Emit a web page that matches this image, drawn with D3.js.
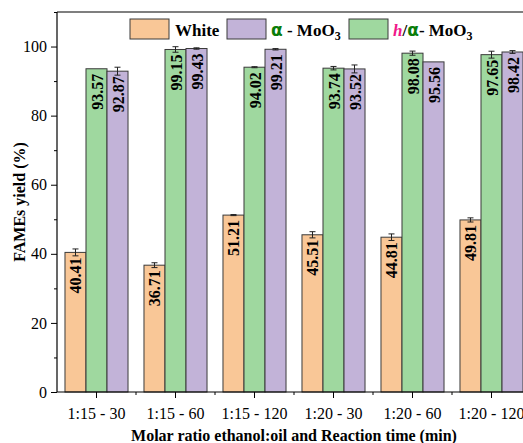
<!DOCTYPE html>
<html><head><meta charset="utf-8">
<script src="https://cdn.jsdelivr.net/npm/d3@7"></script>
<style>body{margin:0;background:#fff}svg{display:block}</style>
</head><body>
<script>
const categories = ["1:15 - 30","1:15 - 60","1:15 - 120","1:20 - 30","1:20 - 60","1:20 - 120"];
const seriesNames = ["White","h/α- MoO3","α - MoO3"];
const whiteVals = [40.41,36.71,51.21,45.51,44.81,49.81];
const hAlphaVals = [93.57,99.15,94.02,93.74,98.08,97.65];
const alphaVals = [92.87,99.43,99.21,93.52,95.56,98.42];
const whiteErr = [1.0,0.7,0.15,0.9,0.95,0.6];
const hAlphaErr = [0,0.8,0.15,0.5,0.6,1.0];
const alphaErr = [1.15,0.2,0.2,1.15,0,0.4];
const yTicks = [0,20,40,60,80,100];

const colors = {"White":"#F9C797","h/α- MoO3":"#9FD89F","α - MoO3":"#C2B3D8"};
const W=523,H=443;
const m={left:57,top:12,right:531,bottom:392};
const svg=d3.select("body").append("svg").attr("width",W).attr("height",H);
const font="'Liberation Serif','Times New Roman',serif";

const x=d3.scaleBand().domain(categories).range([m.left,m.right]).paddingInner(0).paddingOuter(0);
const xs=d3.scaleBand().domain(seriesNames).range([0,x.bandwidth()]).paddingInner(0).paddingOuter(0.38);
const y=d3.scaleLinear().domain([0,110]).range([m.bottom,m.top]);

const series=[
 {name:"White",vals:whiteVals,err:whiteErr},
 {name:"h/α- MoO3",vals:hAlphaVals,err:hAlphaErr},
 {name:"α - MoO3",vals:alphaVals,err:alphaErr}
];
const data=[];
series.forEach(s=>categories.forEach((c,i)=>data.push({cat:c,name:s.name,v:s.vals[i],e:s.err[i]})));

// frame top
svg.append("line").attr("x1",m.left).attr("x2",m.right).attr("y1",m.top).attr("y2",m.top).attr("stroke","#000").attr("stroke-width",1.2);

const g=svg.append("g");
g.selectAll("rect").data(data).enter().append("rect")
 .attr("x",d=>x(d.cat)+xs(d.name)).attr("width",xs.bandwidth())
 .attr("y",d=>y(d.v)).attr("height",d=>y(0)-y(d.v))
 .attr("fill",d=>colors[d.name]).attr("stroke","#3a3a3a").attr("stroke-width",1);

// error bars
const eb=g.selectAll(".eb").data(data.filter(d=>d.e>0)).enter().append("g").attr("stroke","#222").attr("stroke-width",1);
eb.append("line").attr("x1",d=>x(d.cat)+xs(d.name)+xs.bandwidth()/2).attr("x2",d=>x(d.cat)+xs(d.name)+xs.bandwidth()/2)
 .attr("y1",d=>y(d.v-d.e)).attr("y2",d=>y(d.v+d.e));
[1,-1].forEach(sg=>{
 eb.append("line").attr("x1",d=>x(d.cat)+xs(d.name)+xs.bandwidth()/2-3).attr("x2",d=>x(d.cat)+xs(d.name)+xs.bandwidth()/2+3)
 .attr("y1",d=>y(d.v+sg*d.e)).attr("y2",d=>y(d.v+sg*d.e));
});

// value labels
g.selectAll(".lab").data(data).enter().append("text")
 .attr("transform",d=>`translate(${x(d.cat)+xs(d.name)+xs.bandwidth()/2+6},${y(d.v)+5}) rotate(-90)`)
 .attr("text-anchor","end").attr("font-family",font).attr("font-weight","bold").attr("font-size",16)
 .text(d=>d.v.toFixed(2));

// axes
const yAxis=svg.append("g").attr("transform",`translate(${m.left},0)`)
 .call(d3.axisLeft(y).tickValues(yTicks).tickSize(6).tickPadding(4));
yAxis.append("g").call(d3.axisLeft(y).tickValues([10,30,50,70,90,110]).tickSize(3).tickFormat(""));
yAxis.selectAll(".domain").remove();
svg.append("line").attr("x1",m.left).attr("x2",m.left).attr("y1",m.top).attr("y2",m.bottom).attr("stroke","#000").attr("stroke-width",1.2);
yAxis.selectAll("text").attr("font-family",font).attr("font-size",16).attr("fill","#000");

const xAxis=svg.append("g").attr("transform",`translate(0,${m.bottom})`)
 .call(d3.axisBottom(x).tickSize(6).tickPadding(10));
xAxis.selectAll(".domain").remove();
xAxis.selectAll("text").attr("font-family",font).attr("font-size",16).attr("fill","#000");
const bounds=categories.map(c=>x(c)).concat([x(categories[5])+x.bandwidth()]).slice(1);
svg.append("g").selectAll("line").data(bounds).enter().append("line")
 .attr("x1",d=>d).attr("x2",d=>d).attr("y1",m.bottom).attr("y2",m.bottom+3).attr("stroke","#000");
svg.append("line").attr("x1",m.left).attr("x2",m.right).attr("y1",m.bottom).attr("y2",m.bottom).attr("stroke","#000").attr("stroke-width",1.2);

// axis titles
svg.append("text").attr("x",(m.left+m.right)/2).attr("y",441).attr("text-anchor","middle")
 .attr("font-family",font).attr("font-weight","bold").attr("font-size",16).text("Molar ratio ethanol:oil and Reaction time (min)");
svg.append("text").attr("transform",`translate(25,${(m.top+m.bottom)/2}) rotate(-90)`).attr("text-anchor","middle")
 .attr("font-family",font).attr("font-weight","bold").attr("font-size",16).text("FAMEs yield (%)");

// legend
const lg=svg.append("g").attr("font-family",font).attr("font-weight","bold").attr("font-size",17);
const legendItems=[{name:"White",sx:130},{name:"α - MoO3",sx:227},{name:"h/α- MoO3",sx:349}];
legendItems.forEach(it=>{
 lg.append("rect").attr("x",it.sx).attr("y",19).attr("width",39).attr("height",20).attr("fill",colors[it.name]).attr("stroke","#3a3a3a");
});
let t=lg.append("text").attr("x",175).attr("y",36).text("White");
t=lg.append("text").attr("x",271).attr("y",36);
t.append("tspan").attr("fill","#0a7d0a").attr("font-family","'DejaVu Sans',sans-serif").attr("font-size",17).text("α");
t.append("tspan").text(" - MoO");
t.append("tspan").attr("font-size",12).attr("dy",4).text("3");
t=lg.append("text").attr("x",393).attr("y",36);
t.append("tspan").attr("fill","#F0178A").attr("font-style","italic").text("h");
t.append("tspan").text("/");
t.append("tspan").attr("fill","#0a7d0a").attr("font-family","'DejaVu Sans',sans-serif").text("α");
t.append("tspan").text("- MoO");
t.append("tspan").attr("font-size",12).attr("dy",4).text("3");
</script>
</body></html>
